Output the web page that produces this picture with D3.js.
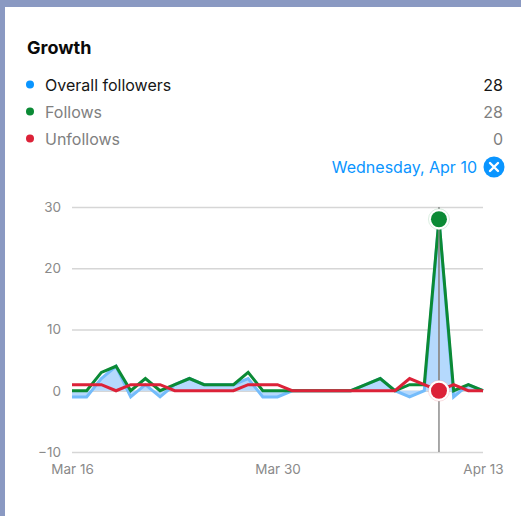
<!DOCTYPE html>
<html>
<head>
<meta charset="utf-8">
<script src="https://cdn.jsdelivr.net/npm/d3@7"></script>
<style>
  html, body { margin: 0; padding: 0; background: #fff; overflow: hidden; }
  svg { display: block; font-family: Inter, "Open Sans", sans-serif; }
  .axis path { display: none; }
  .axis text { fill: #8a8a8a; font-size: 13.5px; font-family: Inter, sans-serif; }
  .y.axis line { stroke: #d6d6d6; stroke-width: 1.5; }
  .x.axis line { display: none; }
</style>
</head>
<body>
<div id="chart"></div>
<script>
// Daily values, Mar 16 to Apr 13 2024
var overall = [-1,-1,2,4,-1,1,-1,1,2,1,1,1,2,-1,-1,0,0,0,0,0,1,2,0,-1,0,28,-1,1,0]
var follows = [0,0,3,4,0,2,0,1,2,1,1,1,3,0,0,0,0,0,0,0,1,2,0,1,1,28,0,1,0]
var unfollows = [1,1,1,0,1,1,1,0,0,0,0,0,1,1,1,0,0,0,0,0,0,0,0,2,1,0,1,0,0]

var legendNames = ['Overall followers', 'Follows', 'Unfollows']
var legendValues = [28, 28, 0]
var legendColors = ['#0a95ff', '#0b8a35', '#dc2238']
var yTicks = [-10, 0, 10, 20, 30]
var xTickDates = [new Date(2024, 2, 16), new Date(2024, 2, 30), new Date(2024, 3, 13)]
var startDate = new Date(2024, 2, 16)
var selectedDate = new Date(2024, 3, 10)
var selectedIndex = 25

var dates = overall.map((d, i) => new Date(2024, 2, 16 + i))

var width = 521, height = 516

var svg = d3.select('#chart').append('svg')
    .attr('width', width)
    .attr('height', height)

// Card frame
svg.append('rect').attr('width', width).attr('height', height).attr('fill', '#8a99c2')
svg.append('rect').attr('x', 5).attr('y', 7).attr('width', width).attr('height', height).attr('fill', '#fff')

// Scales
var xScale = d3.scaleTime().domain([startDate, xTickDates[2]]).range([72, 483])
var yScale = d3.scaleLinear().domain([-10, 30]).range([452, 207])

// Header
svg.append('text').text('Growth')
    .attr('x', 27).attr('y', 53.5)
    .attr('font-size', 18).attr('font-weight', 700).attr('fill', '#0a0a0a')

var legend = svg.selectAll('.legend')
    .data(legendNames)
    .enter()
    .append('g')
    .attr('class', 'legend')
    .attr('transform', (d, i) => 'translate(0,' + (84.5 + i * 27) + ')')

legend.append('circle')
    .attr('cx', 30).attr('r', 4)
    .attr('fill', (d, i) => legendColors[i])

legend.append('text')
    .text(d => d)
    .attr('x', 45).attr('y', 6)
    .attr('font-size', 16)
    .attr('fill', (d, i) => i == 0 ? '#161616' : '#808080')

legend.append('text')
    .text((d, i) => legendValues[i])
    .attr('x', 503).attr('y', 6)
    .attr('text-anchor', 'end')
    .attr('font-size', 16)
    .attr('fill', (d, i) => i == 0 ? '#161616' : '#808080')

// Selected date + close button
svg.append('text').text('Wednesday, Apr 10')
    .attr('x', 477).attr('y', 173)
    .attr('text-anchor', 'end')
    .attr('font-size', 16)
    .attr('fill', '#0a95ff')

var closeBtn = svg.append('g').attr('transform', 'translate(494,167)')
closeBtn.append('circle').attr('r', 10.5).attr('fill', '#0a95ff')
closeBtn.append('path')
    .attr('d', 'M-4,-4L4,4M4,-4L-4,4')
    .attr('stroke', '#fff').attr('stroke-width', 2.4).attr('stroke-linecap', 'round')

// Axes
svg.append('g')
    .attr('class', 'y axis')
    .attr('transform', 'translate(72,0)')
    .call(d3.axisLeft(yScale).tickValues(yTicks).tickSize(-411).tickPadding(11))

svg.append('g')
    .attr('class', 'x axis')
    .attr('transform', 'translate(0,452)')
    .call(d3.axisBottom(xScale).tickValues(xTickDates).tickSize(0).tickPadding(12).tickFormat(d3.timeFormat('%b %-d')))

// Area between the overall line and zero
var area = d3.area()
    .x((d, i) => xScale(dates[i]))
    .y0(yScale(0))
    .y1(d => yScale(d))

svg.append('path').datum(overall)
    .attr('d', area)
    .attr('fill', '#b5d9fd')

// Lines
var line = d3.line()
    .x((d, i) => xScale(dates[i]))
    .y(d => yScale(d))

svg.append('path').datum(overall)
    .attr('d', line)
    .attr('fill', 'none').attr('stroke', '#74bcfb').attr('stroke-width', 3)

// Marker for selected day
svg.append('line')
    .attr('x1', xScale(selectedDate)).attr('x2', xScale(selectedDate))
    .attr('y1', yScale(30)).attr('y2', yScale(-10))
    .attr('stroke', '#8c8c8c').attr('stroke-width', 1.5)

svg.append('path').datum(follows)
    .attr('d', line)
    .attr('fill', 'none').attr('stroke', '#0b8a35').attr('stroke-width', 3)

svg.append('path').datum(unfollows)
    .attr('d', line)
    .attr('fill', 'none').attr('stroke', '#dc2238').attr('stroke-width', 3)

svg.append('line')
    .attr('x1', xScale(selectedDate)).attr('x2', xScale(selectedDate))
    .attr('y1', yScale(28)).attr('y2', yScale(0))
    .attr('stroke', '#8c8c8c').attr('stroke-width', 1.2)

// Selected points
var dots = [
  {value: follows[selectedIndex], color: legendColors[1]},
  {value: unfollows[selectedIndex], color: legendColors[2]}
]

dots.forEach(d => {
    svg.append('circle')
        .attr('cx', xScale(selectedDate)).attr('cy', yScale(d.value))
        .attr('r', 10.5)
        .attr('fill', '#fff').attr('stroke', d.color).attr('stroke-opacity', 0.15)
    svg.append('circle')
        .attr('cx', xScale(selectedDate)).attr('cy', yScale(d.value))
        .attr('r', 8)
        .attr('fill', d.color)
})
</script>
</body>
</html>
